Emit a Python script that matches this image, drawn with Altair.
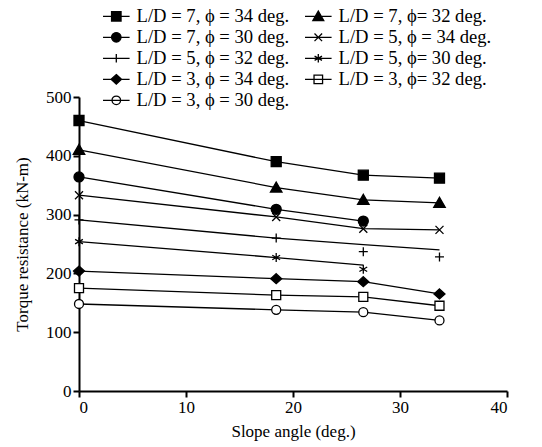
import altair as alt
import pandas as pd

# ---- data ----
series = [
    "L/D = 7, ϕ = 34 deg.",
    "L/D = 7, ϕ= 32 deg.",
    "L/D = 7, ϕ = 30 deg.",
    "L/D = 5, ϕ = 34 deg.",
    "L/D = 5, ϕ = 32 deg.",
    "L/D = 5, ϕ= 30 deg.",
    "L/D = 3, ϕ = 34 deg.",
    "L/D = 3, ϕ= 32 deg.",
    "L/D = 3, ϕ = 30 deg.",
]
angles = [0, 18.43, 26.57, 33.69]
# marker values
ld7_34 = [460, 390, 367, 362]
ld7_32 = [410, 346, 325, 320]
ld7_30 = [364, 309, 289]
ld5_34 = [333, 296, 276, 274]
ld5_32 = [291, 260, 237, 228]
ld5_30 = [254, 227, 207]
ld3_34 = [204, 191, 186, 165]
ld3_32 = [175, 163, 160, 145]
ld3_30 = [148, 138, 134, 120]
marker_values = [ld7_34, ld7_32, ld7_30, ld5_34, ld5_32, ld5_30, ld3_34, ld3_32, ld3_30]
# connecting-line values (two series are drawn as straight trend lines)
ld5_32_line = [291, 260, 249, 240]
ld5_30_line = [254, 227, 214]
line_values = [ld7_34, ld7_32, ld7_30, ld5_34, ld5_32_line, ld5_30_line, ld3_34, ld3_32, ld3_30]

def table(vals_list):
    rows = []
    for name, vals in zip(series, vals_list):
        for a, v in zip(angles, vals):
            rows.append({"series": name, "angle": a, "torque": v})
    return pd.DataFrame(rows)

df_pts = table(marker_values)
df_lines = table(line_values)

# marker shapes (unit paths)
SQ = "M-1,-1H1V1H-1Z"
SQO = "M-0.9,-0.9H0.9V0.9H-0.9Z"
TRI = "M0,-1.1L1.15,0.9L-1.15,0.9Z"
CIR = "M1,0A1,1 0 1,1 -1,0A1,1 0 1,1 1,0Z"
CIRO = "M0.9,0A0.9,0.9 0 1,1 -0.9,0A0.9,0.9 0 1,1 0.9,0Z"
XX = "M-0.8,-0.8L0.8,0.8M-0.8,0.8L0.8,-0.8"
PL = "M-0.9,0H0.9M0,-0.9V0.9"
AST = "M0,-0.9V0.9M-0.78,-0.45L0.78,0.45M-0.78,0.45L0.78,-0.45"
DIA = "M0,-1L1.1,0L0,1L-1.1,0Z"
shape_of = dict(zip(series, [SQ, TRI, CIR, XX, PL, AST, DIA, SQO, CIRO]))
fill_of = dict(zip(series, ["black"] * 7 + ["white", "white"]))
LINE = "M-2.8,0H2.8"

# legend fills columns top-to-bottom; this order gives the two-column layout
legend_order = [series[i] for i in [0, 2, 4, 6, 8, 1, 3, 5, 7]]

FONT = "Liberation Serif"

x_enc = alt.X(
    "angle:Q",
    scale=alt.Scale(domain=[0, 40], nice=False),
    axis=alt.Axis(values=[0, 10, 20, 30, 40], title="Slope angle (deg.)",
                  labelFont=FONT, titleFont=FONT),
)
y_enc = alt.Y(
    "torque:Q",
    scale=alt.Scale(domain=[0, 500], nice=False),
    axis=alt.Axis(values=[0, 100, 200, 300, 400, 500], title="Torque resistance (kN-m)",
                  labelFont=FONT, titleFont=FONT),
)

lines = alt.Chart(df_lines).mark_line(color="black", strokeWidth=1.3).encode(
    x=x_enc, y=y_enc, detail="series:N", order="angle:Q"
)

points = alt.Chart(df_pts).mark_point(stroke="black", strokeWidth=1.3, opacity=1, size=100).encode(
    x=x_enc,
    y=y_enc,
    shape=alt.Shape("series:N", scale=alt.Scale(domain=series, range=[shape_of[s] for s in series]), legend=None),
    fill=alt.Fill("series:N", scale=alt.Scale(domain=series, range=[fill_of[s] for s in series]), legend=None),
)

leg = alt.Legend(
    title=None,
    orient="none",
    legendX=28,
    legendY=-90,
    columns=2,
    direction="vertical",
    labelFont=FONT,
    labelFontSize=18.6,
    labelColor="black",
    labelOffset=11,
    symbolSize=90,
    symbolStrokeColor="black",
    symbolStrokeWidth=1.3,
    rowPadding=2,
    columnPadding=12,
    labelLimit=0,
)

legend_layer = alt.Chart(df_pts).transform_filter("false").mark_point(
    strokeWidth=1.3, opacity=1
).encode(
    x=x_enc,
    y=y_enc,
    shape=alt.Shape("series:N", scale=alt.Scale(domain=legend_order, range=[LINE + shape_of[s] for s in legend_order]), legend=leg),
    fill=alt.Fill("series:N", scale=alt.Scale(domain=legend_order, range=[fill_of[s] for s in legend_order]), legend=leg),
    stroke=alt.Stroke("series:N", scale=alt.Scale(domain=legend_order, range=["black"] * len(legend_order)), legend=leg),
)

chart = (
    alt.layer(lines, points, legend_layer)
    .resolve_scale(shape="independent", fill="independent", stroke="independent")
    .properties(
        width=428,
        height=294,
        autosize=alt.AutoSizeParams(type="none"),
        padding={"left": 79, "top": 97, "right": 35, "bottom": 56},
    )
    .configure_view(stroke=None)
    .configure_axis(
        grid=False,
        domainColor="black",
        domainWidth=2,
        tickColor="black",
        tickWidth=2,
        tickSize=6,
        labelFont=FONT,
        labelFontSize=17,
        labelColor="black",
        titleFont=FONT,
        titleFontSize=17,
        titleFontWeight="normal",
        titleColor="black",
        labelPadding=2,
    )
    .configure_axisY(titlePadding=14)
    .configure_axisX(titlePadding=8)
)

chart.save("out.html", embed_options={"renderer": "svg", "actions": False})
